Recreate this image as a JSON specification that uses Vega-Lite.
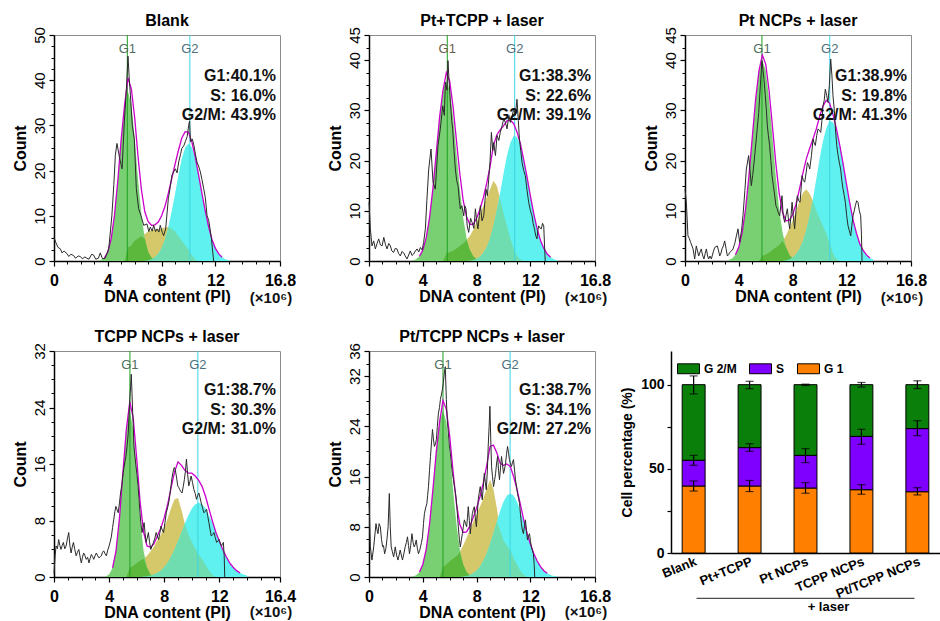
{
"$schema": "https://vega.github.io/schema/vega-lite/v6.json",
"padding": {"left": 11, "top": 12, "right": 0, "bottom": 0},
"background": "white",
"spacing": 21,
"resolve": {"scale": {"color": "independent"}, "legend": {"color": "independent"}},
"config": {
  "font": "Liberation Sans",
  "view": {"stroke": "#8c8c8c"},
  "title": {"font": "Liberation Sans", "fontSize": 16, "fontWeight": "bold", "color": "#000", "offset": -2, "anchor": "middle"},
  "axis": {"grid": false, "domainColor": "#000", "domainWidth": 1.5, "tickColor": "#000", "tickWidth": 1.2, "tickSize": 5, "labelColor": "#000", "titleColor": "#000", "labelFont": "Liberation Sans", "titleFont": "Liberation Sans", "titleFontWeight": "bold"},
  "axisX": {"labelFontSize": 16, "labelFontWeight": "bold", "titleFontSize": 16, "labelPadding": 6, "titlePadding": 0},
  "axisY": {"labelFontSize": 15, "labelAngle": -90, "titleFontSize": 16, "labelPadding": 2, "titlePadding": 4},
  "text": {"font": "Liberation Sans"}
},
"datasets": {
"f1": [
{"x":3.25,"g1":0.05,"s":0,"g2":0,"o1":0,"o2":0,"f":0.05},
{"x":3.5,"g1":0.21,"s":0,"g2":0,"o1":0,"o2":0,"f":0.21},
{"x":3.75,"g1":0.7,"s":0,"g2":0,"o1":0,"o2":0,"f":0.7},
{"x":4.0,"g1":2.0,"s":0,"g2":0,"o1":0,"o2":0,"f":2.0},
{"x":4.25,"g1":4.9,"s":0,"g2":0,"o1":0,"o2":0,"f":4.9},
{"x":4.5,"g1":10.2,"s":0,"g2":0,"o1":0,"o2":0,"f":10.2},
{"x":4.75,"g1":18.0,"s":0,"g2":0,"o1":0,"o2":0,"f":18.0},
{"x":5.0,"g1":27.1,"s":0,"g2":0,"o1":0,"o2":0,"f":27.1},
{"x":5.25,"g1":34.6,"s":0,"g2":0,"o1":0,"o2":0,"f":34.6},
{"x":5.5,"g1":37.5,"s":3.0,"g2":0,"o1":3.0,"o2":0,"f":40.5},
{"x":5.75,"g1":34.6,"s":3.5,"g2":0,"o1":3.5,"o2":0,"f":38.1},
{"x":6.0,"g1":27.1,"s":4.5,"g2":0,"o1":4.5,"o2":0,"f":31.6},
{"x":6.25,"g1":18.0,"s":5.0,"g2":0,"o1":5.0,"o2":0,"f":23.0},
{"x":6.5,"g1":10.2,"s":5.5,"g2":0,"o1":5.5,"o2":0,"f":15.7},
{"x":6.75,"g1":4.9,"s":6.0,"g2":0,"o1":4.9,"o2":0,"f":10.9},
{"x":7.0,"g1":2.0,"s":6.5,"g2":0.18,"o1":2.0,"o2":0.18,"f":8.7},
{"x":7.25,"g1":0.7,"s":6.8,"g2":0.4,"o1":0.7,"o2":0.4,"f":7.9},
{"x":7.5,"g1":0.21,"s":7.0,"g2":0.81,"o1":0.21,"o2":0.81,"f":8.0},
{"x":7.75,"g1":0.05,"s":7.0,"g2":1.57,"o1":0.05,"o2":1.57,"f":8.6},
{"x":8.0,"g1":0,"s":7.2,"g2":2.8,"o1":0,"o2":2.8,"f":10.0},
{"x":8.25,"g1":0,"s":7.4,"g2":4.7,"o1":0,"o2":4.7,"f":12.1},
{"x":8.5,"g1":0,"s":7.5,"g2":7.5,"o1":0,"o2":7.5,"f":15.0},
{"x":8.75,"g1":0,"s":7.2,"g2":11.0,"o1":0,"o2":7.2,"f":18.2},
{"x":9.0,"g1":0,"s":6.5,"g2":14.9,"o1":0,"o2":6.5,"f":21.4},
{"x":9.25,"g1":0,"s":5.5,"g2":19.0,"o1":0,"o2":5.5,"f":24.5},
{"x":9.5,"g1":0,"s":4.5,"g2":22.7,"o1":0,"o2":4.5,"f":27.2},
{"x":9.75,"g1":0,"s":3.5,"g2":25.1,"o1":0,"o2":3.5,"f":28.6},
{"x":10.0,"g1":0,"s":2.5,"g2":26.0,"o1":0,"o2":2.5,"f":28.5},
{"x":10.25,"g1":0,"s":1.2,"g2":25.1,"o1":0,"o2":1.2,"f":26.3},
{"x":10.5,"g1":0,"s":0.3,"g2":22.7,"o1":0,"o2":0.3,"f":23.0},
{"x":10.75,"g1":0,"s":0,"g2":19.0,"o1":0,"o2":0,"f":19.0},
{"x":11.0,"g1":0,"s":0,"g2":14.9,"o1":0,"o2":0,"f":14.9},
{"x":11.25,"g1":0,"s":0,"g2":11.0,"o1":0,"o2":0,"f":11.0},
{"x":11.5,"g1":0,"s":0,"g2":7.5,"o1":0,"o2":0,"f":7.5},
{"x":11.75,"g1":0,"s":0,"g2":4.7,"o1":0,"o2":0,"f":4.7},
{"x":12.0,"g1":0,"s":0,"g2":2.8,"o1":0,"o2":0,"f":2.8},
{"x":12.25,"g1":0,"s":0,"g2":1.57,"o1":0,"o2":0,"f":1.57},
{"x":12.5,"g1":0,"s":0,"g2":0.81,"o1":0,"o2":0,"f":0.81},
{"x":12.75,"g1":0,"s":0,"g2":0.4,"o1":0,"o2":0,"f":0.4},
{"x":13.0,"g1":0,"s":0,"g2":0.18,"o1":0,"o2":0,"f":0.18}
],
"r1": [
{"x":0,"y":5.2},{"x":0.15,"y":4},{"x":0.3,"y":3},{"x":0.47,"y":2.7},{"x":0.6,"y":1.8},{"x":0.75,"y":2.2},{"x":0.97,"y":1.6},{"x":1.1,"y":1.0},{"x":1.25,"y":1.5},{"x":1.46,"y":1.2},{"x":1.6,"y":0.6},{"x":1.8,"y":1.1},{"x":1.96,"y":1.0},{"x":2.1,"y":0.5},{"x":2.3,"y":0.9},{"x":2.45,"y":0.6},{"x":2.6,"y":0.4},{"x":2.8,"y":1.5},{"x":2.95,"y":1.3},{"x":3.1,"y":0.4},{"x":3.3,"y":0.6},{"x":3.44,"y":1.8},{"x":3.6,"y":0.5},{"x":3.8,"y":0.6},{"x":4.07,"y":2.7},{"x":4.3,"y":10},{"x":4.45,"y":17},{"x":4.56,"y":23.4},{"x":4.68,"y":26},{"x":4.88,"y":22.7},{"x":5.06,"y":20.4},{"x":5.23,"y":30.8},{"x":5.38,"y":38},{"x":5.5,"y":45.3},{"x":5.6,"y":40},{"x":5.68,"y":36.7},{"x":5.82,"y":30},{"x":5.97,"y":27},{"x":6.12,"y":16},{"x":6.29,"y":11.6},{"x":6.47,"y":10},{"x":6.67,"y":7.9},{"x":6.91,"y":8.2},{"x":7.05,"y":6.5},{"x":7.16,"y":7.5},{"x":7.3,"y":6.6},{"x":7.41,"y":7.9},{"x":7.55,"y":6.5},{"x":7.66,"y":7.1},{"x":7.8,"y":6.4},{"x":7.9,"y":7.9},{"x":8.05,"y":6.3},{"x":8.15,"y":5.6},{"x":8.3,"y":7.1},{"x":8.5,"y":13.8},{"x":8.65,"y":16.5},{"x":8.77,"y":19},{"x":9.02,"y":20.4},{"x":9.15,"y":19.5},{"x":9.27,"y":21.9},{"x":9.4,"y":23.5},{"x":9.5,"y":24.9},{"x":9.65,"y":25.5},{"x":9.76,"y":26.4},{"x":9.9,"y":27.5},{"x":10.01,"y":30},{"x":10.08,"y":31},{"x":10.14,"y":26.4},{"x":10.28,"y":27},{"x":10.4,"y":25.6},{"x":10.52,"y":23.5},{"x":10.63,"y":21.9},{"x":10.75,"y":21},{"x":10.88,"y":19.7},{"x":11.0,"y":18},{"x":11.13,"y":16},{"x":11.25,"y":14},{"x":11.38,"y":10},{"x":11.5,"y":9},{"x":11.6,"y":7.1},{"x":11.7,"y":5},{"x":11.8,"y":2},{"x":11.87,"y":0}
],
"f2": [
{"x":3.25,"g1":0.12,"s":0,"g2":0,"o1":0,"o2":0,"f":0.12},
{"x":3.5,"g1":0.35,"s":0,"g2":0,"o1":0,"o2":0,"f":0.35},
{"x":3.75,"g1":0.94,"s":0,"g2":0,"o1":0,"o2":0,"f":0.94},
{"x":4.0,"g1":2.2,"s":0,"g2":0,"o1":0,"o2":0,"f":2.2},
{"x":4.25,"g1":4.6,"s":0,"g2":0,"o1":0,"o2":0,"f":4.6},
{"x":4.5,"g1":8.6,"s":0,"g2":0,"o1":0,"o2":0,"f":8.6},
{"x":4.75,"g1":14.4,"s":0,"g2":0,"o1":0,"o2":0,"f":14.4},
{"x":5.0,"g1":21.5,"s":0,"g2":0,"o1":0,"o2":0,"f":21.5},
{"x":5.25,"g1":28.7,"s":0,"g2":0,"o1":0,"o2":0,"f":28.7},
{"x":5.5,"g1":34.0,"s":0,"g2":0,"o1":0,"o2":0,"f":34.0},
{"x":5.75,"g1":36.0,"s":1.5,"g2":0,"o1":1.5,"o2":0,"f":37.5},
{"x":6.0,"g1":34.0,"s":1.8,"g2":0,"o1":1.8,"o2":0,"f":35.8},
{"x":6.25,"g1":28.7,"s":2.0,"g2":0,"o1":2.0,"o2":0,"f":30.7},
{"x":6.5,"g1":21.5,"s":2.5,"g2":0,"o1":2.5,"o2":0,"f":24.0},
{"x":6.75,"g1":14.4,"s":3.0,"g2":0,"o1":3.0,"o2":0,"f":17.4},
{"x":7.0,"g1":8.6,"s":3.5,"g2":0,"o1":3.5,"o2":0,"f":12.1},
{"x":7.25,"g1":4.6,"s":4.2,"g2":0,"o1":4.2,"o2":0,"f":8.8},
{"x":7.5,"g1":2.2,"s":5.0,"g2":0.09,"o1":2.2,"o2":0.09,"f":7.3},
{"x":7.75,"g1":0.94,"s":6.2,"g2":0.2,"o1":0.94,"o2":0.2,"f":7.3},
{"x":8.0,"g1":0.35,"s":7.7,"g2":0.43,"o1":0.35,"o2":0.43,"f":8.5},
{"x":8.25,"g1":0.12,"s":9.3,"g2":0.85,"o1":0.12,"o2":0.85,"f":10.3},
{"x":8.5,"g1":0.04,"s":11.0,"g2":1.58,"o1":0.04,"o2":1.58,"f":12.6},
{"x":8.75,"g1":0,"s":12.7,"g2":2.75,"o1":0,"o2":2.75,"f":15.5},
{"x":9.0,"g1":0,"s":14.3,"g2":4.5,"o1":0,"o2":4.5,"f":18.8},
{"x":9.25,"g1":0,"s":16.0,"g2":6.95,"o1":0,"o2":6.95,"f":23.0},
{"x":9.5,"g1":0,"s":15.0,"g2":10.1,"o1":0,"o2":10.1,"f":25.1},
{"x":9.75,"g1":0,"s":12.5,"g2":13.6,"o1":0,"o2":12.5,"f":26.1},
{"x":10.0,"g1":0,"s":9.5,"g2":17.4,"o1":0,"o2":9.5,"f":26.9},
{"x":10.25,"g1":0,"s":7.0,"g2":20.9,"o1":0,"o2":7.0,"f":27.9},
{"x":10.5,"g1":0,"s":4.5,"g2":23.5,"o1":0,"o2":4.5,"f":28.0},
{"x":10.75,"g1":0,"s":2.5,"g2":24.9,"o1":0,"o2":2.5,"f":27.4},
{"x":11.0,"g1":0,"s":1.0,"g2":24.7,"o1":0,"o2":1.0,"f":25.7},
{"x":11.25,"g1":0,"s":0.3,"g2":23.1,"o1":0,"o2":0.3,"f":23.4},
{"x":11.5,"g1":0,"s":0,"g2":20.2,"o1":0,"o2":0,"f":20.2},
{"x":11.75,"g1":0,"s":0,"g2":16.7,"o1":0,"o2":0,"f":16.7},
{"x":12.0,"g1":0,"s":0,"g2":12.9,"o1":0,"o2":0,"f":12.9},
{"x":12.25,"g1":0,"s":0,"g2":9.4,"o1":0,"o2":0,"f":9.4},
{"x":12.5,"g1":0,"s":0,"g2":6.4,"o1":0,"o2":0,"f":6.4},
{"x":12.75,"g1":0,"s":0,"g2":4.1,"o1":0,"o2":0,"f":4.1},
{"x":13.0,"g1":0,"s":0,"g2":2.5,"o1":0,"o2":0,"f":2.5},
{"x":13.25,"g1":0,"s":0,"g2":1.4,"o1":0,"o2":0,"f":1.4},
{"x":13.5,"g1":0,"s":0,"g2":0.75,"o1":0,"o2":0,"f":0.75},
{"x":13.75,"g1":0,"s":0,"g2":0.37,"o1":0,"o2":0,"f":0.37},
{"x":14.0,"g1":0,"s":0,"g2":0.17,"o1":0,"o2":0,"f":0.17}
],
"r2": [
{"x":0,"y":11.7},{"x":0.1,"y":6.4},{"x":0.22,"y":3},{"x":0.35,"y":4},{"x":0.47,"y":2.4},{"x":0.6,"y":3.5},{"x":0.72,"y":4.4},{"x":0.85,"y":3.2},{"x":0.97,"y":3},{"x":1.1,"y":4.7},{"x":1.22,"y":3.3},{"x":1.34,"y":2.4},{"x":1.47,"y":3.5},{"x":1.59,"y":3},{"x":1.7,"y":2},{"x":1.83,"y":1.7},{"x":1.95,"y":2.5},{"x":2.08,"y":2.4},{"x":2.2,"y":1.5},{"x":2.33,"y":1},{"x":2.45,"y":1.9},{"x":2.58,"y":1.6},{"x":2.7,"y":1},{"x":2.83,"y":0.4},{"x":2.95,"y":1.2},{"x":3.07,"y":2},{"x":3.2,"y":1.1},{"x":3.32,"y":1.4},{"x":3.45,"y":2},{"x":3.57,"y":2.4},{"x":3.7,"y":1.8},{"x":3.82,"y":2.7},{"x":3.95,"y":2.2},{"x":4.06,"y":3.7},{"x":4.19,"y":6.4},{"x":4.3,"y":12},{"x":4.44,"y":18.3},{"x":4.61,"y":22.3},{"x":4.76,"y":15.7},{"x":4.93,"y":14.3},{"x":5.13,"y":23},{"x":5.3,"y":26.3},{"x":5.48,"y":30.9},{"x":5.6,"y":29},{"x":5.68,"y":35.6},{"x":5.8,"y":34},{"x":5.87,"y":39.9},{"x":5.95,"y":36},{"x":6.05,"y":31.6},{"x":6.15,"y":28},{"x":6.22,"y":26.3},{"x":6.32,"y":22},{"x":6.42,"y":18.3},{"x":6.52,"y":16},{"x":6.62,"y":15},{"x":6.72,"y":12},{"x":6.79,"y":10.4},{"x":6.9,"y":11},{"x":7.04,"y":9},{"x":7.12,"y":11},{"x":7.21,"y":10.4},{"x":7.3,"y":7},{"x":7.41,"y":5.7},{"x":7.55,"y":8.5},{"x":7.66,"y":7.7},{"x":7.8,"y":6.5},{"x":7.91,"y":10.4},{"x":8.0,"y":8},{"x":8.1,"y":6.4},{"x":8.2,"y":9},{"x":8.28,"y":11},{"x":8.4,"y":8},{"x":8.53,"y":9},{"x":8.62,"y":12},{"x":8.7,"y":14.3},{"x":8.8,"y":13},{"x":8.9,"y":16.3},{"x":9.0,"y":20},{"x":9.1,"y":25.6},{"x":9.2,"y":22},{"x":9.27,"y":23.6},{"x":9.4,"y":21},{"x":9.52,"y":25},{"x":9.65,"y":24},{"x":9.76,"y":25.6},{"x":9.9,"y":27},{"x":10.01,"y":28.3},{"x":10.15,"y":27.5},{"x":10.26,"y":26.3},{"x":10.4,"y":29},{"x":10.51,"y":27.6},{"x":10.65,"y":29},{"x":10.76,"y":30.3},{"x":10.88,"y":29},{"x":11.0,"y":32.2},{"x":11.1,"y":28},{"x":11.18,"y":24.3},{"x":11.28,"y":22},{"x":11.38,"y":19.6},{"x":11.5,"y":18},{"x":11.62,"y":17},{"x":11.75,"y":14},{"x":11.87,"y":11.7},{"x":12.0,"y":10},{"x":12.12,"y":9},{"x":12.2,"y":7.5},{"x":12.3,"y":6.4},{"x":12.4,"y":5},{"x":12.49,"y":4.4},{"x":12.55,"y":6},{"x":12.61,"y":7},{"x":12.7,"y":6.6},{"x":12.81,"y":6.4},{"x":12.9,"y":7.5},{"x":12.99,"y":7},{"x":13.05,"y":3},{"x":13.1,"y":0}
],
"f3": [
{"x":3.25,"g1":0.18,"s":0,"g2":0,"o1":0,"o2":0,"f":0.18},
{"x":3.5,"g1":0.5,"s":0,"g2":0,"o1":0,"o2":0,"f":0.5},
{"x":3.75,"g1":1.25,"s":0,"g2":0,"o1":0,"o2":0,"f":1.25},
{"x":4.0,"g1":2.8,"s":0,"g2":0,"o1":0,"o2":0,"f":2.8},
{"x":4.25,"g1":5.7,"s":0,"g2":0,"o1":0,"o2":0,"f":5.7},
{"x":4.5,"g1":10.3,"s":0,"g2":0,"o1":0,"o2":0,"f":10.3},
{"x":4.75,"g1":16.8,"s":0,"g2":0,"o1":0,"o2":0,"f":16.8},
{"x":5.0,"g1":24.6,"s":0,"g2":0,"o1":0,"o2":0,"f":24.6},
{"x":5.25,"g1":32.2,"s":0,"g2":0,"o1":0,"o2":0,"f":32.2},
{"x":5.5,"g1":37.9,"s":0,"g2":0,"o1":0,"o2":0,"f":37.9},
{"x":5.75,"g1":40.0,"s":1.0,"g2":0,"o1":1.0,"o2":0,"f":41.0},
{"x":6.0,"g1":37.9,"s":1.3,"g2":0,"o1":1.3,"o2":0,"f":39.2},
{"x":6.25,"g1":32.2,"s":1.7,"g2":0,"o1":1.7,"o2":0,"f":33.9},
{"x":6.5,"g1":24.6,"s":2.2,"g2":0,"o1":2.2,"o2":0,"f":26.8},
{"x":6.75,"g1":16.8,"s":2.7,"g2":0,"o1":2.7,"o2":0,"f":19.5},
{"x":7.0,"g1":10.3,"s":3.2,"g2":0,"o1":3.2,"o2":0,"f":13.5},
{"x":7.25,"g1":5.7,"s":4.0,"g2":0,"o1":4.0,"o2":0,"f":9.7},
{"x":7.5,"g1":2.8,"s":5.0,"g2":0.17,"o1":2.8,"o2":0.17,"f":8.0},
{"x":7.75,"g1":1.25,"s":6.5,"g2":0.36,"o1":1.25,"o2":0.36,"f":8.1},
{"x":8.0,"g1":0.5,"s":8.0,"g2":0.7,"o1":0.5,"o2":0.7,"f":9.2},
{"x":8.25,"g1":0.18,"s":9.8,"g2":1.3,"o1":0.18,"o2":1.3,"f":11.3},
{"x":8.5,"g1":0.06,"s":11.8,"g2":2.3,"o1":0.06,"o2":2.3,"f":14.2},
{"x":8.75,"g1":0,"s":13.5,"g2":3.8,"o1":0,"o2":3.8,"f":17.3},
{"x":9.0,"g1":0,"s":14.3,"g2":5.9,"o1":0,"o2":5.9,"f":20.2},
{"x":9.25,"g1":0,"s":13.5,"g2":8.8,"o1":0,"o2":8.8,"f":22.3},
{"x":9.5,"g1":0,"s":12.0,"g2":12.2,"o1":0,"o2":12.0,"f":24.2},
{"x":9.75,"g1":0,"s":10.0,"g2":16.2,"o1":0,"o2":10.0,"f":26.2},
{"x":10.0,"g1":0,"s":8.5,"g2":20.2,"o1":0,"o2":8.5,"f":28.7},
{"x":10.25,"g1":0,"s":7.0,"g2":23.8,"o1":0,"o2":7.0,"f":30.8},
{"x":10.5,"g1":0,"s":5.5,"g2":26.5,"o1":0,"o2":5.5,"f":32.0},
{"x":10.75,"g1":0,"s":3.5,"g2":27.9,"o1":0,"o2":3.5,"f":31.4},
{"x":11.0,"g1":0,"s":1.5,"g2":27.7,"o1":0,"o2":1.5,"f":29.2},
{"x":11.25,"g1":0,"s":0.4,"g2":26.0,"o1":0,"o2":0.4,"f":26.4},
{"x":11.5,"g1":0,"s":0,"g2":23.1,"o1":0,"o2":0,"f":23.1},
{"x":11.75,"g1":0,"s":0,"g2":19.4,"o1":0,"o2":0,"f":19.4},
{"x":12.0,"g1":0,"s":0,"g2":15.4,"o1":0,"o2":0,"f":15.4},
{"x":12.25,"g1":0,"s":0,"g2":11.5,"o1":0,"o2":0,"f":11.5},
{"x":12.5,"g1":0,"s":0,"g2":8.1,"o1":0,"o2":0,"f":8.1},
{"x":12.75,"g1":0,"s":0,"g2":5.5,"o1":0,"o2":0,"f":5.5},
{"x":13.0,"g1":0,"s":0,"g2":3.4,"o1":0,"o2":0,"f":3.4},
{"x":13.25,"g1":0,"s":0,"g2":2.1,"o1":0,"o2":0,"f":2.1},
{"x":13.5,"g1":0,"s":0,"g2":1.16,"o1":0,"o2":0,"f":1.16},
{"x":13.75,"g1":0,"s":0,"g2":0.62,"o1":0,"o2":0,"f":0.62},
{"x":14.0,"g1":0,"s":0,"g2":0.31,"o1":0,"o2":0,"f":0.31}
],
"r3": [
{"x":0,"y":14.3},{"x":0.1,"y":11.7},{"x":0.22,"y":5},{"x":0.32,"y":4.5},{"x":0.42,"y":3.7},{"x":0.6,"y":2.4},{"x":0.72,"y":0.4},{"x":0.84,"y":3},{"x":0.93,"y":2},{"x":1.02,"y":1},{"x":1.12,"y":1.8},{"x":1.21,"y":2.4},{"x":1.3,"y":1.2},{"x":1.41,"y":0.4},{"x":1.5,"y":1.5},{"x":1.59,"y":2.4},{"x":1.68,"y":1},{"x":1.76,"y":0.4},{"x":1.86,"y":1},{"x":1.96,"y":0.4},{"x":2.1,"y":1.8},{"x":2.21,"y":2.7},{"x":2.4,"y":3},{"x":2.5,"y":2},{"x":2.58,"y":1},{"x":2.68,"y":1.6},{"x":2.75,"y":2.4},{"x":2.85,"y":3},{"x":2.95,"y":4},{"x":3.05,"y":2.5},{"x":3.15,"y":1},{"x":3.25,"y":1.3},{"x":3.32,"y":1.7},{"x":3.45,"y":2},{"x":3.57,"y":2.4},{"x":3.7,"y":3.5},{"x":3.82,"y":5},{"x":3.94,"y":6.4},{"x":4.06,"y":3.7},{"x":4.2,"y":6},{"x":4.31,"y":9},{"x":4.45,"y":14},{"x":4.56,"y":18.3},{"x":4.73,"y":21},{"x":4.83,"y":18},{"x":4.93,"y":15},{"x":5.03,"y":17},{"x":5.13,"y":19.6},{"x":5.3,"y":24.3},{"x":5.48,"y":29.6},{"x":5.63,"y":36.2},{"x":5.72,"y":39.9},{"x":5.8,"y":38},{"x":5.87,"y":36.2},{"x":5.97,"y":32.9},{"x":6.05,"y":30},{"x":6.12,"y":26.9},{"x":6.2,"y":25},{"x":6.29,"y":23},{"x":6.38,"y":20},{"x":6.47,"y":17},{"x":6.57,"y":15},{"x":6.67,"y":13},{"x":6.76,"y":11},{"x":6.86,"y":10.4},{"x":6.95,"y":9.5},{"x":7.04,"y":9},{"x":7.12,"y":11},{"x":7.21,"y":13},{"x":7.3,"y":9},{"x":7.41,"y":7.7},{"x":7.5,"y":9},{"x":7.61,"y":10.4},{"x":7.7,"y":8},{"x":7.78,"y":6.4},{"x":7.88,"y":9},{"x":7.96,"y":11.7},{"x":8.05,"y":9},{"x":8.15,"y":6.4},{"x":8.25,"y":10},{"x":8.35,"y":13},{"x":8.45,"y":12},{"x":8.55,"y":11.7},{"x":8.62,"y":14},{"x":8.7,"y":17},{"x":8.8,"y":16},{"x":8.9,"y":15.7},{"x":9.0,"y":17.5},{"x":9.1,"y":19.6},{"x":9.2,"y":19},{"x":9.27,"y":18.3},{"x":9.4,"y":21},{"x":9.52,"y":24.3},{"x":9.6,"y":23.5},{"x":9.69,"y":23},{"x":9.79,"y":25},{"x":9.89,"y":26.3},{"x":10.0,"y":26},{"x":10.09,"y":25.6},{"x":10.18,"y":28},{"x":10.26,"y":30.9},{"x":10.35,"y":32},{"x":10.43,"y":34.2},{"x":10.53,"y":33},{"x":10.63,"y":31.6},{"x":10.73,"y":35},{"x":10.83,"y":40.2},{"x":10.92,"y":37},{"x":11.0,"y":32.9},{"x":11.1,"y":30},{"x":11.18,"y":26.3},{"x":11.28,"y":23},{"x":11.38,"y":21},{"x":11.48,"y":19.5},{"x":11.57,"y":18.3},{"x":11.66,"y":16},{"x":11.75,"y":14.3},{"x":11.84,"y":13},{"x":11.92,"y":11.7},{"x":12.02,"y":9},{"x":12.12,"y":7},{"x":12.22,"y":6},{"x":12.32,"y":5},{"x":12.4,"y":7},{"x":12.49,"y":9},{"x":12.58,"y":10},{"x":12.66,"y":11},{"x":12.76,"y":12},{"x":12.86,"y":11.7},{"x":12.96,"y":10},{"x":13.06,"y":9},{"x":13.12,"y":5},{"x":13.16,"y":0}
],
"f4": [
{"x":3.75,"g1":0.08,"s":0,"g2":0,"o1":0,"o2":0,"f":0.08},
{"x":4.0,"g1":0.37,"s":0,"g2":0,"o1":0,"o2":0,"f":0.37},
{"x":4.25,"g1":1.3,"s":0,"g2":0,"o1":0,"o2":0,"f":1.3},
{"x":4.5,"g1":3.7,"s":0,"g2":0,"o1":0,"o2":0,"f":3.7},
{"x":4.75,"g1":8.3,"s":0,"g2":0,"o1":0,"o2":0,"f":8.3},
{"x":5.0,"g1":14.8,"s":0,"g2":0,"o1":0,"o2":0,"f":14.8},
{"x":5.25,"g1":20.9,"s":0,"g2":0,"o1":0,"o2":0,"f":20.9},
{"x":5.5,"g1":23.5,"s":1.3,"g2":0,"o1":1.3,"o2":0,"f":24.8},
{"x":5.75,"g1":20.9,"s":1.6,"g2":0,"o1":1.6,"o2":0,"f":22.5},
{"x":6.0,"g1":14.8,"s":2.0,"g2":0,"o1":2.0,"o2":0,"f":16.8},
{"x":6.25,"g1":8.3,"s":2.3,"g2":0,"o1":2.3,"o2":0,"f":10.6},
{"x":6.5,"g1":3.7,"s":2.6,"g2":0.06,"o1":2.6,"o2":0.06,"f":6.4},
{"x":6.75,"g1":1.3,"s":3.0,"g2":0.11,"o1":1.3,"o2":0.11,"f":4.4},
{"x":7.0,"g1":0.37,"s":3.6,"g2":0.2,"o1":0.37,"o2":0.2,"f":4.2},
{"x":7.25,"g1":0.08,"s":4.3,"g2":0.34,"o1":0.08,"o2":0.34,"f":4.7},
{"x":7.5,"g1":0,"s":5.2,"g2":0.56,"o1":0,"o2":0.56,"f":5.8},
{"x":7.75,"g1":0,"s":6.0,"g2":0.9,"o1":0,"o2":0.9,"f":6.9},
{"x":8.0,"g1":0,"s":7.0,"g2":1.38,"o1":0,"o2":1.38,"f":8.4},
{"x":8.25,"g1":0,"s":8.3,"g2":2.0,"o1":0,"o2":2.0,"f":10.3},
{"x":8.5,"g1":0,"s":9.8,"g2":2.86,"o1":0,"o2":2.86,"f":12.7},
{"x":8.75,"g1":0,"s":11.0,"g2":3.9,"o1":0,"o2":3.9,"f":14.9},
{"x":9.0,"g1":0,"s":11.2,"g2":5.05,"o1":0,"o2":5.05,"f":16.3},
{"x":9.25,"g1":0,"s":9.5,"g2":6.3,"o1":0,"o2":6.3,"f":15.8},
{"x":9.5,"g1":0,"s":7.5,"g2":7.6,"o1":0,"o2":7.5,"f":15.1},
{"x":9.75,"g1":0,"s":6.0,"g2":8.7,"o1":0,"o2":6.0,"f":14.7},
{"x":10.0,"g1":0,"s":5.0,"g2":9.7,"o1":0,"o2":5.0,"f":14.7},
{"x":10.25,"g1":0,"s":4.0,"g2":10.3,"o1":0,"o2":4.0,"f":14.3},
{"x":10.5,"g1":0,"s":3.2,"g2":10.5,"o1":0,"o2":3.2,"f":13.7},
{"x":10.75,"g1":0,"s":2.5,"g2":10.3,"o1":0,"o2":2.5,"f":12.8},
{"x":11.0,"g1":0,"s":1.7,"g2":9.7,"o1":0,"o2":1.7,"f":11.4},
{"x":11.25,"g1":0,"s":0.9,"g2":8.7,"o1":0,"o2":0.9,"f":9.6},
{"x":11.5,"g1":0,"s":0.3,"g2":7.6,"o1":0,"o2":0.3,"f":7.9},
{"x":11.75,"g1":0,"s":0,"g2":6.3,"o1":0,"o2":0,"f":6.3},
{"x":12.0,"g1":0,"s":0,"g2":5.05,"o1":0,"o2":0,"f":5.05},
{"x":12.25,"g1":0,"s":0,"g2":3.9,"o1":0,"o2":0,"f":3.9},
{"x":12.5,"g1":0,"s":0,"g2":2.86,"o1":0,"o2":0,"f":2.86},
{"x":12.75,"g1":0,"s":0,"g2":2.0,"o1":0,"o2":0,"f":2.0},
{"x":13.0,"g1":0,"s":0,"g2":1.38,"o1":0,"o2":0,"f":1.38},
{"x":13.25,"g1":0,"s":0,"g2":0.9,"o1":0,"o2":0,"f":0.9},
{"x":13.5,"g1":0,"s":0,"g2":0.56,"o1":0,"o2":0,"f":0.56},
{"x":13.75,"g1":0,"s":0,"g2":0.34,"o1":0,"o2":0,"f":0.34},
{"x":14.0,"g1":0,"s":0,"g2":0.2,"o1":0,"o2":0,"f":0.2}
],
"r4": [
{"x":0,"y":0.5},{"x":0.08,"y":3},{"x":0.15,"y":4.4},{"x":0.25,"y":4},{"x":0.34,"y":5.3},{"x":0.42,"y":4.5},{"x":0.51,"y":3.9},{"x":0.6,"y":4.5},{"x":0.68,"y":4.9},{"x":0.78,"y":4},{"x":0.88,"y":4.4},{"x":0.98,"y":5.5},{"x":1.07,"y":6.3},{"x":1.15,"y":4.5},{"x":1.24,"y":3.4},{"x":1.32,"y":4.2},{"x":1.41,"y":4.9},{"x":1.5,"y":4},{"x":1.61,"y":3},{"x":1.7,"y":3.5},{"x":1.8,"y":3.9},{"x":1.9,"y":2.8},{"x":1.98,"y":2},{"x":2.07,"y":2.8},{"x":2.15,"y":3.4},{"x":2.25,"y":3},{"x":2.34,"y":2.5},{"x":2.44,"y":2.8},{"x":2.54,"y":2},{"x":2.62,"y":2.6},{"x":2.71,"y":3.2},{"x":2.8,"y":2.9},{"x":2.88,"y":2.5},{"x":2.98,"y":3},{"x":3.07,"y":3.4},{"x":3.17,"y":3},{"x":3.27,"y":2.7},{"x":3.36,"y":2.9},{"x":3.44,"y":3},{"x":3.52,"y":3.5},{"x":3.61,"y":3.7},{"x":3.7,"y":3.3},{"x":3.8,"y":3},{"x":3.9,"y":3.8},{"x":4.0,"y":4.4},{"x":4.08,"y":5},{"x":4.17,"y":5.8},{"x":4.25,"y":7},{"x":4.34,"y":8.2},{"x":4.42,"y":9.3},{"x":4.49,"y":10},{"x":4.58,"y":9.5},{"x":4.66,"y":9.1},{"x":4.75,"y":10.5},{"x":4.83,"y":11.9},{"x":4.92,"y":13},{"x":5.02,"y":14.8},{"x":5.12,"y":16},{"x":5.22,"y":17.1},{"x":5.3,"y":18.5},{"x":5.39,"y":20.4},{"x":5.45,"y":23},{"x":5.51,"y":25.6},{"x":5.56,"y":27},{"x":5.61,"y":28.7},{"x":5.66,"y":26},{"x":5.71,"y":23.3},{"x":5.76,"y":21},{"x":5.8,"y":18.5},{"x":5.88,"y":17},{"x":5.95,"y":15.7},{"x":6.02,"y":14.5},{"x":6.1,"y":12.9},{"x":6.17,"y":11},{"x":6.24,"y":9.1},{"x":6.31,"y":7.5},{"x":6.39,"y":6.3},{"x":6.46,"y":7},{"x":6.54,"y":7.7},{"x":6.61,"y":6.2},{"x":6.68,"y":4.9},{"x":6.76,"y":5.5},{"x":6.85,"y":6.3},{"x":6.93,"y":5},{"x":7.02,"y":3.9},{"x":7.12,"y":4.4},{"x":7.22,"y":4.9},{"x":7.32,"y":5.5},{"x":7.41,"y":6.3},{"x":7.5,"y":5.8},{"x":7.59,"y":5.3},{"x":7.68,"y":6.2},{"x":7.76,"y":7.2},{"x":7.85,"y":6.7},{"x":7.95,"y":6.3},{"x":8.05,"y":7.7},{"x":8.15,"y":9.1},{"x":8.24,"y":9.8},{"x":8.32,"y":10.5},{"x":8.4,"y":11.5},{"x":8.49,"y":12.9},{"x":8.56,"y":14},{"x":8.63,"y":14.8},{"x":8.72,"y":15.5},{"x":8.8,"y":15.2},{"x":8.9,"y":14},{"x":8.98,"y":12.9},{"x":9.05,"y":12.7},{"x":9.12,"y":12.4},{"x":9.2,"y":12.1},{"x":9.29,"y":11.9},{"x":9.38,"y":12.8},{"x":9.46,"y":13.8},{"x":9.54,"y":15},{"x":9.61,"y":16.7},{"x":9.7,"y":14.5},{"x":9.78,"y":12.9},{"x":9.86,"y":13.5},{"x":9.95,"y":14.3},{"x":10.05,"y":13.4},{"x":10.15,"y":12.4},{"x":10.25,"y":11.8},{"x":10.34,"y":11},{"x":10.42,"y":11.5},{"x":10.51,"y":11.9},{"x":10.6,"y":11.2},{"x":10.68,"y":10.5},{"x":10.78,"y":9.8},{"x":10.88,"y":9.1},{"x":10.98,"y":9.3},{"x":11.07,"y":9.6},{"x":11.15,"y":8.7},{"x":11.24,"y":7.7},{"x":11.32,"y":6.8},{"x":11.41,"y":5.8},{"x":11.51,"y":6},{"x":11.61,"y":6.3},{"x":11.7,"y":5.6},{"x":11.8,"y":4.9},{"x":11.9,"y":5.1},{"x":11.98,"y":5.3},{"x":12.06,"y":4.8},{"x":12.15,"y":4.4},{"x":12.22,"y":4.6},{"x":12.29,"y":4.9},{"x":12.35,"y":3},{"x":12.39,"y":0}
],
"f5": [
{"x":3.25,"g1":0.08,"s":0,"g2":0,"o1":0,"o2":0,"f":0.08},
{"x":3.5,"g1":0.27,"s":0,"g2":0,"o1":0,"o2":0,"f":0.27},
{"x":3.75,"g1":0.79,"s":0,"g2":0,"o1":0,"o2":0,"f":0.79},
{"x":4.0,"g1":2.0,"s":0,"g2":0,"o1":0,"o2":0,"f":2.0},
{"x":4.25,"g1":4.4,"s":0,"g2":0,"o1":0,"o2":0,"f":4.4},
{"x":4.5,"g1":8.4,"s":0,"g2":0,"o1":0,"o2":0,"f":8.4},
{"x":4.75,"g1":13.9,"s":0,"g2":0,"o1":0,"o2":0,"f":13.9},
{"x":5.0,"g1":19.9,"s":0,"g2":0,"o1":0,"o2":0,"f":19.9},
{"x":5.25,"g1":24.7,"s":0,"g2":0,"o1":0,"o2":0,"f":24.7},
{"x":5.5,"g1":26.5,"s":1.6,"g2":0,"o1":1.6,"o2":0,"f":28.1},
{"x":5.75,"g1":24.7,"s":2.0,"g2":0,"o1":2.0,"o2":0,"f":26.7},
{"x":6.0,"g1":19.9,"s":2.5,"g2":0,"o1":2.5,"o2":0,"f":22.4},
{"x":6.25,"g1":13.9,"s":2.9,"g2":0,"o1":2.9,"o2":0,"f":16.8},
{"x":6.5,"g1":8.4,"s":3.3,"g2":0,"o1":3.3,"o2":0,"f":11.7},
{"x":6.75,"g1":4.4,"s":4.0,"g2":0,"o1":4.0,"o2":0,"f":8.4},
{"x":7.0,"g1":2.0,"s":5.0,"g2":0.08,"o1":2.0,"o2":0.08,"f":7.1},
{"x":7.25,"g1":0.79,"s":6.2,"g2":0.17,"o1":0.79,"o2":0.17,"f":7.2},
{"x":7.5,"g1":0.27,"s":7.5,"g2":0.32,"o1":0.27,"o2":0.32,"f":8.1},
{"x":7.75,"g1":0.08,"s":8.8,"g2":0.58,"o1":0.08,"o2":0.58,"f":9.5},
{"x":8.0,"g1":0,"s":10.0,"g2":1.0,"o1":0,"o2":1.0,"f":11.0},
{"x":8.25,"g1":0,"s":11.2,"g2":1.64,"o1":0,"o2":1.64,"f":12.8},
{"x":8.5,"g1":0,"s":12.5,"g2":2.54,"o1":0,"o2":2.54,"f":15.0},
{"x":8.75,"g1":0,"s":14.0,"g2":3.75,"o1":0,"o2":3.75,"f":17.8},
{"x":9.0,"g1":0,"s":15.5,"g2":5.25,"o1":0,"o2":5.25,"f":20.8},
{"x":9.25,"g1":0,"s":14.0,"g2":6.97,"o1":0,"o2":6.97,"f":21.0},
{"x":9.5,"g1":0,"s":11.0,"g2":8.8,"o1":0,"o2":8.8,"f":19.8},
{"x":9.75,"g1":0,"s":7.5,"g2":10.55,"o1":0,"o2":7.5,"f":18.1},
{"x":10.0,"g1":0,"s":5.8,"g2":12.0,"o1":0,"o2":5.8,"f":17.8},
{"x":10.25,"g1":0,"s":5.0,"g2":12.97,"o1":0,"o2":5.0,"f":18.0},
{"x":10.5,"g1":0,"s":4.3,"g2":13.3,"o1":0,"o2":4.3,"f":17.6},
{"x":10.75,"g1":0,"s":3.0,"g2":12.97,"o1":0,"o2":3.0,"f":16.0},
{"x":11.0,"g1":0,"s":2.0,"g2":12.0,"o1":0,"o2":2.0,"f":14.0},
{"x":11.25,"g1":0,"s":1.0,"g2":10.55,"o1":0,"o2":1.0,"f":11.6},
{"x":11.5,"g1":0,"s":0.3,"g2":8.8,"o1":0,"o2":0.3,"f":9.1},
{"x":11.75,"g1":0,"s":0,"g2":6.97,"o1":0,"o2":0,"f":6.97},
{"x":12.0,"g1":0,"s":0,"g2":5.25,"o1":0,"o2":0,"f":5.25},
{"x":12.25,"g1":0,"s":0,"g2":3.75,"o1":0,"o2":0,"f":3.75},
{"x":12.5,"g1":0,"s":0,"g2":2.54,"o1":0,"o2":0,"f":2.54},
{"x":12.75,"g1":0,"s":0,"g2":1.64,"o1":0,"o2":0,"f":1.64},
{"x":13.0,"g1":0,"s":0,"g2":1.0,"o1":0,"o2":0,"f":1.0},
{"x":13.25,"g1":0,"s":0,"g2":0.58,"o1":0,"o2":0,"f":0.58},
{"x":13.5,"g1":0,"s":0,"g2":0.32,"o1":0,"o2":0,"f":0.32},
{"x":13.75,"g1":0,"s":0,"g2":0.17,"o1":0,"o2":0,"f":0.17},
{"x":14.0,"g1":0,"s":0,"g2":0.08,"o1":0,"o2":0,"f":0.08}
],
"r5": [
{"x":0,"y":12.8},{"x":0.1,"y":4.8},{"x":0.22,"y":2.7},{"x":0.35,"y":4.8},{"x":0.45,"y":7},{"x":0.52,"y":8.5},{"x":0.6,"y":7.5},{"x":0.67,"y":6.9},{"x":0.75,"y":8.5},{"x":0.84,"y":8},{"x":0.93,"y":6},{"x":1.01,"y":4.8},{"x":1.08,"y":5},{"x":1.16,"y":3.7},{"x":1.25,"y":4.5},{"x":1.33,"y":5.9},{"x":1.42,"y":8},{"x":1.51,"y":13.3},{"x":1.58,"y":8},{"x":1.65,"y":4.8},{"x":1.74,"y":4},{"x":1.83,"y":3.2},{"x":1.9,"y":4},{"x":1.95,"y":4.8},{"x":2.05,"y":3.5},{"x":2.15,"y":2.7},{"x":2.24,"y":3.5},{"x":2.32,"y":4.3},{"x":2.4,"y":3.5},{"x":2.49,"y":2.7},{"x":2.6,"y":3.8},{"x":2.69,"y":4.8},{"x":2.78,"y":5.5},{"x":2.86,"y":6.4},{"x":2.94,"y":5},{"x":3.01,"y":3.7},{"x":3.1,"y":5},{"x":3.19,"y":6.9},{"x":3.28,"y":5.5},{"x":3.36,"y":4.8},{"x":3.44,"y":5.2},{"x":3.51,"y":5.9},{"x":3.6,"y":4.5},{"x":3.68,"y":3.7},{"x":3.76,"y":4.2},{"x":3.83,"y":4.8},{"x":3.9,"y":5.5},{"x":3.98,"y":6.4},{"x":4.05,"y":8.5},{"x":4.12,"y":10.1},{"x":4.21,"y":11},{"x":4.3,"y":11.7},{"x":4.36,"y":13},{"x":4.42,"y":14.4},{"x":4.5,"y":17},{"x":4.57,"y":19.2},{"x":4.65,"y":21.5},{"x":4.72,"y":23.5},{"x":4.79,"y":22},{"x":4.86,"y":20.8},{"x":4.94,"y":21.2},{"x":5.01,"y":21.9},{"x":5.08,"y":24},{"x":5.16,"y":26.1},{"x":5.24,"y":27},{"x":5.31,"y":28.3},{"x":5.38,"y":29},{"x":5.46,"y":29.9},{"x":5.53,"y":31},{"x":5.6,"y":32.5},{"x":5.67,"y":33.5},{"x":5.75,"y":28.3},{"x":5.82,"y":25},{"x":5.9,"y":22.9},{"x":5.97,"y":21},{"x":6.05,"y":19.7},{"x":6.12,"y":18},{"x":6.2,"y":16.5},{"x":6.28,"y":15.5},{"x":6.35,"y":14.4},{"x":6.42,"y":13.5},{"x":6.49,"y":12.3},{"x":6.57,"y":10},{"x":6.64,"y":8},{"x":6.72,"y":6},{"x":6.79,"y":4.8},{"x":6.86,"y":5.8},{"x":6.94,"y":6.9},{"x":7.01,"y":8},{"x":7.09,"y":9.1},{"x":7.18,"y":8.5},{"x":7.26,"y":8},{"x":7.32,"y":9.5},{"x":7.38,"y":11.2},{"x":7.46,"y":9},{"x":7.53,"y":6.9},{"x":7.6,"y":8.5},{"x":7.68,"y":10.1},{"x":7.76,"y":10.8},{"x":7.83,"y":11.2},{"x":7.9,"y":9.5},{"x":7.98,"y":8},{"x":8.05,"y":10},{"x":8.12,"y":12.3},{"x":8.2,"y":13.5},{"x":8.27,"y":14.4},{"x":8.35,"y":13.2},{"x":8.42,"y":12.3},{"x":8.5,"y":14.5},{"x":8.57,"y":16.5},{"x":8.65,"y":15},{"x":8.72,"y":13.9},{"x":8.8,"y":17},{"x":8.86,"y":20.8},{"x":8.93,"y":24},{"x":8.99,"y":27.2},{"x":9.05,"y":22},{"x":9.11,"y":17.6},{"x":9.18,"y":16},{"x":9.26,"y":14.4},{"x":9.34,"y":15.5},{"x":9.41,"y":16.5},{"x":9.48,"y":18},{"x":9.56,"y":19.2},{"x":9.63,"y":17},{"x":9.7,"y":15.5},{"x":9.78,"y":17.5},{"x":9.85,"y":19.2},{"x":9.92,"y":18},{"x":10.0,"y":16.5},{"x":10.08,"y":17.2},{"x":10.15,"y":18.1},{"x":10.22,"y":19.5},{"x":10.3,"y":20.8},{"x":10.37,"y":19.8},{"x":10.44,"y":18.7},{"x":10.52,"y":18},{"x":10.59,"y":17.6},{"x":10.66,"y":18.2},{"x":10.74,"y":18.7},{"x":10.82,"y":17},{"x":10.89,"y":15.5},{"x":10.96,"y":14.5},{"x":11.04,"y":13.3},{"x":11.12,"y":12.5},{"x":11.19,"y":11.7},{"x":11.26,"y":10},{"x":11.33,"y":8.5},{"x":11.4,"y":7.5},{"x":11.48,"y":6.9},{"x":11.55,"y":8},{"x":11.63,"y":9.1},{"x":11.7,"y":7.5},{"x":11.78,"y":5.9},{"x":11.86,"y":6.5},{"x":11.93,"y":6.9},{"x":12.0,"y":5.8},{"x":12.07,"y":4.8},{"x":12.15,"y":4.2},{"x":12.22,"y":3.7},{"x":12.28,"y":2},{"x":12.32,"y":0}
],
"bars": [
{"group":"Blank","phase":"G1","ord":1,"value":39.8,"lo":36.8,"hi":42.8},
{"group":"Blank","phase":"S","ord":2,"value":15.3,"lo":52.1,"hi":58.0},
{"group":"Blank","phase":"G2/M","ord":3,"value":44.9,"lo":94.5,"hi":105.2},
{"group":"Pt+TCPP","phase":"G1","ord":1,"value":39.8,"lo":36.5,"hi":43.1},
{"group":"Pt+TCPP","phase":"S","ord":2,"value":22.8,"lo":60.4,"hi":64.9},
{"group":"Pt+TCPP","phase":"G2/M","ord":3,"value":37.4,"lo":97.6,"hi":102.0},
{"group":"Pt NCPs","phase":"G1","ord":1,"value":38.6,"lo":35.5,"hi":41.8},
{"group":"Pt NCPs","phase":"S","ord":2,"value":19.4,"lo":53.7,"hi":62.0},
{"group":"Pt NCPs","phase":"G2/M","ord":3,"value":42.0,"lo":99.5,"hi":100.3},
{"group":"TCPP NCPs","phase":"G1","ord":1,"value":37.6,"lo":34.9,"hi":40.6},
{"group":"TCPP NCPs","phase":"S","ord":2,"value":31.7,"lo":64.6,"hi":73.5},
{"group":"TCPP NCPs","phase":"G2/M","ord":3,"value":30.7,"lo":98.6,"hi":101.3},
{"group":"Pt/TCPP NCPs","phase":"G1","ord":1,"value":36.4,"lo":34.5,"hi":38.8},
{"group":"Pt/TCPP NCPs","phase":"S","ord":2,"value":37.5,"lo":69.7,"hi":78.6},
{"group":"Pt/TCPP NCPs","phase":"G2/M","ord":3,"value":26.1,"lo":97.7,"hi":102.3}
]
},
"vconcat": [
{
"hconcat": [
{
 "width": 226, "height": 226,
 "title": {"text": "Blank"},
 "data": {"name": "f1"},
 "resolve": {"axis": {"x": "independent", "y": "independent"}},
 "layer": [
 {"layer": [
  {"mark": {"type": "area", "color": "#D4C86A"}, "encoding": {"x": {"field": "x", "type": "quantitative", "scale": {"domain": [0, 16.8], "nice": false, "zero": false}, "axis": {"title": "DNA content (PI)", "values": [0, 4, 8, 12, 16.8], "labelExpr": "'' + datum.value", "labelFlush": false, "labelOverlap": false}}, "y": {"field": "s", "type": "quantitative", "scale": {"domain": [0, 50], "nice": false}, "axis": {"title": "Count", "values": [0, 10, 20, 30, 40, 50]}}}},
  {"mark": {"type": "area", "color": "#78D072"}, "encoding": {"x": {"field": "x", "type": "quantitative"}, "y": {"field": "g1", "type": "quantitative"}}},
  {"mark": {"type": "area", "color": "#5FF0F0"}, "encoding": {"x": {"field": "x", "type": "quantitative"}, "y": {"field": "g2", "type": "quantitative"}}},
  {"mark": {"type": "area", "color": "#5CB83C"}, "encoding": {"x": {"field": "x", "type": "quantitative"}, "y": {"field": "o1", "type": "quantitative"}}},
  {"mark": {"type": "area", "color": "#6FDDB0"}, "encoding": {"x": {"field": "x", "type": "quantitative"}, "y": {"field": "o2", "type": "quantitative"}}},
  {"data": {"values": [{}]}, "mark": {"type": "rule", "color": "#1F9F1F", "strokeWidth": 1}, "encoding": {"x": {"datum": 5.45}}},
  {"data": {"values": [{}]}, "mark": {"type": "rule", "color": "#3CD5E2", "strokeWidth": 1}, "encoding": {"x": {"datum": 10.1}}},
  {"transform": [{"filter": "datum.f > 0.5"}], "mark": {"type": "line", "color": "#CC00CC", "strokeWidth": 1.3}, "encoding": {"x": {"field": "x", "type": "quantitative"}, "y": {"field": "f", "type": "quantitative"}}},
  {"data": {"name": "r1"}, "mark": {"type": "line", "color": "#2A2A2A", "strokeWidth": 1}, "encoding": {"x": {"field": "x", "type": "quantitative"}, "y": {"field": "y", "type": "quantitative"}}},
  {"data": {"values": [{}]}, "mark": {"type": "text", "text": "G1", "fontSize": 13, "color": "#4F6E60", "dy": 14}, "encoding": {"x": {"datum": 5.45}, "y": {"datum": 50}}},
  {"data": {"values": [{}]}, "mark": {"type": "text", "text": "G2", "fontSize": 13, "color": "#4F6E7A", "dy": 14}, "encoding": {"x": {"datum": 10.1}, "y": {"datum": 50}}},
  {"data": {"values": [{}]}, "mark": {"type": "text", "text": ["G1:40.1%", "S: 16.0%", "G2/M: 43.9%"], "align": "right", "baseline": "top", "fontSize": 16, "fontWeight": "bold", "lineHeight": 19.5, "dx": -4, "dy": 33, "color": "#111"}, "encoding": {"x": {"datum": 16.8}, "y": {"datum": 50}}},
  {"data": {"values": [{}]}, "mark": {"type": "text", "text": "(×10⁶)", "fontSize": 15, "fontWeight": "bold", "dx": -9, "dy": 37, "color": "#111"}, "encoding": {"x": {"datum": 16.8}, "y": {"datum": 0}}}
 ]},
 {"data": {"values": [{}]}, "mark": {"type": "point", "opacity": 0}, "encoding": {"x": {"datum": 0, "type": "quantitative", "axis": {"orient": "bottom", "values": [1,2,3,5,6,7,9,10,11,13,14,15,16], "labels": false, "title": null, "domain": false, "tickSize": 3, "tickWidth": 1}}, "y": {"datum": 0, "type": "quantitative", "axis": {"orient": "left", "values": [2.5,5,7.5,12.5,15,17.5,22.5,25,27.5,32.5,35,37.5,42.5,45,47.5], "labels": false, "title": null, "domain": false, "tickSize": 3, "tickWidth": 1}}}}
 ]
},
{"width": 89, "height": 226, "view": {"stroke": null}, "data": {"values": [{"k": 1}]}, "mark": {"type": "point", "opacity": 0}, "encoding": {}},
{
 "width": 226, "height": 226,
 "title": {"text": "Pt+TCPP + laser"},
 "data": {"name": "f2"},
 "resolve": {"axis": {"x": "independent", "y": "independent"}},
 "layer": [
 {"layer": [
  {"mark": {"type": "area", "color": "#D4C86A"}, "encoding": {"x": {"field": "x", "type": "quantitative", "scale": {"domain": [0, 16.8], "nice": false, "zero": false}, "axis": {"title": "DNA content (PI)", "values": [0, 4, 8, 12, 16.8], "labelExpr": "'' + datum.value", "labelFlush": false, "labelOverlap": false}}, "y": {"field": "s", "type": "quantitative", "scale": {"domain": [0, 45], "nice": false}, "axis": {"title": "Count", "values": [0, 10, 20, 30, 40, 45]}}}},
  {"mark": {"type": "area", "color": "#78D072"}, "encoding": {"x": {"field": "x", "type": "quantitative"}, "y": {"field": "g1", "type": "quantitative"}}},
  {"mark": {"type": "area", "color": "#5FF0F0"}, "encoding": {"x": {"field": "x", "type": "quantitative"}, "y": {"field": "g2", "type": "quantitative"}}},
  {"mark": {"type": "area", "color": "#5CB83C"}, "encoding": {"x": {"field": "x", "type": "quantitative"}, "y": {"field": "o1", "type": "quantitative"}}},
  {"mark": {"type": "area", "color": "#6FDDB0"}, "encoding": {"x": {"field": "x", "type": "quantitative"}, "y": {"field": "o2", "type": "quantitative"}}},
  {"data": {"values": [{}]}, "mark": {"type": "rule", "color": "#1F9F1F", "strokeWidth": 1}, "encoding": {"x": {"datum": 5.82}}},
  {"data": {"values": [{}]}, "mark": {"type": "rule", "color": "#3CD5E2", "strokeWidth": 1}, "encoding": {"x": {"datum": 10.83}}},
  {"transform": [{"filter": "datum.f > 0.5"}], "mark": {"type": "line", "color": "#CC00CC", "strokeWidth": 1.3}, "encoding": {"x": {"field": "x", "type": "quantitative"}, "y": {"field": "f", "type": "quantitative"}}},
  {"data": {"name": "r2"}, "mark": {"type": "line", "color": "#2A2A2A", "strokeWidth": 1}, "encoding": {"x": {"field": "x", "type": "quantitative"}, "y": {"field": "y", "type": "quantitative"}}},
  {"data": {"values": [{}]}, "mark": {"type": "text", "text": "G1", "fontSize": 13, "color": "#6B6050", "dy": 14}, "encoding": {"x": {"datum": 5.82}, "y": {"datum": 45}}},
  {"data": {"values": [{}]}, "mark": {"type": "text", "text": "G2", "fontSize": 13, "color": "#4F6E7A", "dy": 14}, "encoding": {"x": {"datum": 10.83}, "y": {"datum": 45}}},
  {"data": {"values": [{}]}, "mark": {"type": "text", "text": ["G1:38.3%", "S: 22.6%", "G2/M: 39.1%"], "align": "right", "baseline": "top", "fontSize": 16, "fontWeight": "bold", "lineHeight": 19.5, "dx": -4, "dy": 33, "color": "#111"}, "encoding": {"x": {"datum": 16.8}, "y": {"datum": 45}}},
  {"data": {"values": [{}]}, "mark": {"type": "text", "text": "(×10⁶)", "fontSize": 15, "fontWeight": "bold", "dx": -9, "dy": 37, "color": "#111"}, "encoding": {"x": {"datum": 16.8}, "y": {"datum": 0}}}
 ]},
 {"data": {"values": [{}]}, "mark": {"type": "point", "opacity": 0}, "encoding": {"x": {"datum": 0, "type": "quantitative", "axis": {"orient": "bottom", "values": [1,2,3,5,6,7,9,10,11,13,14,15,16], "labels": false, "title": null, "domain": false, "tickSize": 3, "tickWidth": 1}}, "y": {"datum": 0, "type": "quantitative", "axis": {"orient": "left", "values": [2.5,5,7.5,12.5,15,17.5,22.5,25,27.5,32.5,35,37.5,42.5], "labels": false, "title": null, "domain": false, "tickSize": 3, "tickWidth": 1}}}}
 ]
},
{"width": 90, "height": 226, "view": {"stroke": null}, "data": {"values": [{"k": 1}]}, "mark": {"type": "point", "opacity": 0}, "encoding": {}},
{
 "width": 226, "height": 226,
 "title": {"text": "Pt NCPs + laser"},
 "data": {"name": "f3"},
 "resolve": {"axis": {"x": "independent", "y": "independent"}},
 "layer": [
 {"layer": [
  {"mark": {"type": "area", "color": "#D4C86A"}, "encoding": {"x": {"field": "x", "type": "quantitative", "scale": {"domain": [0, 16.8], "nice": false, "zero": false}, "axis": {"title": "DNA content (PI)", "values": [0, 4, 8, 12, 16.8], "labelExpr": "'' + datum.value", "labelFlush": false, "labelOverlap": false}}, "y": {"field": "s", "type": "quantitative", "scale": {"domain": [0, 45], "nice": false}, "axis": {"title": "Count", "values": [0, 10, 20, 30, 40, 45]}}}},
  {"mark": {"type": "area", "color": "#78D072"}, "encoding": {"x": {"field": "x", "type": "quantitative"}, "y": {"field": "g1", "type": "quantitative"}}},
  {"mark": {"type": "area", "color": "#5FF0F0"}, "encoding": {"x": {"field": "x", "type": "quantitative"}, "y": {"field": "g2", "type": "quantitative"}}},
  {"mark": {"type": "area", "color": "#5CB83C"}, "encoding": {"x": {"field": "x", "type": "quantitative"}, "y": {"field": "o1", "type": "quantitative"}}},
  {"mark": {"type": "area", "color": "#6FDDB0"}, "encoding": {"x": {"field": "x", "type": "quantitative"}, "y": {"field": "o2", "type": "quantitative"}}},
  {"data": {"values": [{}]}, "mark": {"type": "rule", "color": "#1F9F1F", "strokeWidth": 1}, "encoding": {"x": {"datum": 5.72}}},
  {"data": {"values": [{}]}, "mark": {"type": "rule", "color": "#3CD5E2", "strokeWidth": 1}, "encoding": {"x": {"datum": 10.76}}},
  {"transform": [{"filter": "datum.f > 0.5"}], "mark": {"type": "line", "color": "#CC00CC", "strokeWidth": 1.3}, "encoding": {"x": {"field": "x", "type": "quantitative"}, "y": {"field": "f", "type": "quantitative"}}},
  {"data": {"name": "r3"}, "mark": {"type": "line", "color": "#2A2A2A", "strokeWidth": 1}, "encoding": {"x": {"field": "x", "type": "quantitative"}, "y": {"field": "y", "type": "quantitative"}}},
  {"data": {"values": [{}]}, "mark": {"type": "text", "text": "G1", "fontSize": 13, "color": "#4F6E60", "dy": 14}, "encoding": {"x": {"datum": 5.72}, "y": {"datum": 45}}},
  {"data": {"values": [{}]}, "mark": {"type": "text", "text": "G2", "fontSize": 13, "color": "#4F6E7A", "dy": 14}, "encoding": {"x": {"datum": 10.76}, "y": {"datum": 45}}},
  {"data": {"values": [{}]}, "mark": {"type": "text", "text": ["G1:38.9%", "S: 19.8%", "G2/M: 41.3%"], "align": "right", "baseline": "top", "fontSize": 16, "fontWeight": "bold", "lineHeight": 19.5, "dx": -4, "dy": 33, "color": "#111"}, "encoding": {"x": {"datum": 16.8}, "y": {"datum": 45}}},
  {"data": {"values": [{}]}, "mark": {"type": "text", "text": "(×10⁶)", "fontSize": 15, "fontWeight": "bold", "dx": -9, "dy": 37, "color": "#111"}, "encoding": {"x": {"datum": 16.8}, "y": {"datum": 0}}}
 ]},
 {"data": {"values": [{}]}, "mark": {"type": "point", "opacity": 0}, "encoding": {"x": {"datum": 0, "type": "quantitative", "axis": {"orient": "bottom", "values": [1,2,3,5,6,7,9,10,11,13,14,15,16], "labels": false, "title": null, "domain": false, "tickSize": 3, "tickWidth": 1}}, "y": {"datum": 0, "type": "quantitative", "axis": {"orient": "left", "values": [2.5,5,7.5,12.5,15,17.5,22.5,25,27.5,32.5,35,37.5,42.5], "labels": false, "title": null, "domain": false, "tickSize": 3, "tickWidth": 1}}}}
 ]
}
],
"bounds": "flush",
"spacing": 0
},
{
"hconcat": [
{
 "width": 226, "height": 226,
 "title": {"text": "TCPP NCPs + laser"},
 "data": {"name": "f4"},
 "resolve": {"axis": {"x": "independent", "y": "independent"}},
 "layer": [
 {"layer": [
  {"mark": {"type": "area", "color": "#D4C86A"}, "encoding": {"x": {"field": "x", "type": "quantitative", "scale": {"domain": [0, 16.4], "nice": false, "zero": false}, "axis": {"title": "DNA content (PI)", "values": [0, 4, 8, 12, 16.4], "labelExpr": "'' + datum.value", "labelFlush": false, "labelOverlap": false}}, "y": {"field": "s", "type": "quantitative", "scale": {"domain": [0, 32], "nice": false}, "axis": {"title": "Count", "values": [0, 8, 16, 24, 32]}}}},
  {"mark": {"type": "area", "color": "#78D072"}, "encoding": {"x": {"field": "x", "type": "quantitative"}, "y": {"field": "g1", "type": "quantitative"}}},
  {"mark": {"type": "area", "color": "#5FF0F0"}, "encoding": {"x": {"field": "x", "type": "quantitative"}, "y": {"field": "g2", "type": "quantitative"}}},
  {"mark": {"type": "area", "color": "#5CB83C"}, "encoding": {"x": {"field": "x", "type": "quantitative"}, "y": {"field": "o1", "type": "quantitative"}}},
  {"mark": {"type": "area", "color": "#6FDDB0"}, "encoding": {"x": {"field": "x", "type": "quantitative"}, "y": {"field": "o2", "type": "quantitative"}}},
  {"data": {"values": [{}]}, "mark": {"type": "rule", "color": "#1F9F1F", "strokeWidth": 1}, "encoding": {"x": {"datum": 5.51}}},
  {"data": {"values": [{}]}, "mark": {"type": "rule", "color": "#3CD5E2", "strokeWidth": 1}, "encoding": {"x": {"datum": 10.44}}},
  {"transform": [{"filter": "datum.f > 0.5"}], "mark": {"type": "line", "color": "#CC00CC", "strokeWidth": 1.3}, "encoding": {"x": {"field": "x", "type": "quantitative"}, "y": {"field": "f", "type": "quantitative"}}},
  {"data": {"name": "r4"}, "mark": {"type": "line", "color": "#2A2A2A", "strokeWidth": 1}, "encoding": {"x": {"field": "x", "type": "quantitative"}, "y": {"field": "y", "type": "quantitative"}}},
  {"data": {"values": [{}]}, "mark": {"type": "text", "text": "G1", "fontSize": 13, "color": "#4F6E60", "dy": 14}, "encoding": {"x": {"datum": 5.51}, "y": {"datum": 32}}},
  {"data": {"values": [{}]}, "mark": {"type": "text", "text": "G2", "fontSize": 13, "color": "#4F6E7A", "dy": 14}, "encoding": {"x": {"datum": 10.44}, "y": {"datum": 32}}},
  {"data": {"values": [{}]}, "mark": {"type": "text", "text": ["G1:38.7%", "S: 30.3%", "G2/M: 31.0%"], "align": "right", "baseline": "top", "fontSize": 16, "fontWeight": "bold", "lineHeight": 19.5, "dx": -4, "dy": 31, "color": "#111"}, "encoding": {"x": {"datum": 16.4}, "y": {"datum": 32}}},
  {"data": {"values": [{}]}, "mark": {"type": "text", "text": "(×10⁶)", "fontSize": 15, "fontWeight": "bold", "dx": -9, "dy": 35, "color": "#111"}, "encoding": {"x": {"datum": 16.4}, "y": {"datum": 0}}}
 ]},
 {"data": {"values": [{}]}, "mark": {"type": "point", "opacity": 0}, "encoding": {"x": {"datum": 0, "type": "quantitative", "axis": {"orient": "bottom", "values": [1,2,3,5,6,7,9,10,11,13,14,15,16], "labels": false, "title": null, "domain": false, "tickSize": 3, "tickWidth": 1}}, "y": {"datum": 0, "type": "quantitative", "axis": {"orient": "left", "values": [2,4,6,10,12,14,18,20,22,26,28,30], "labels": false, "title": null, "domain": false, "tickSize": 3, "tickWidth": 1}}}}
 ]
},
{"width": 89, "height": 226, "view": {"stroke": null}, "data": {"values": [{"k": 1}]}, "mark": {"type": "point", "opacity": 0}, "encoding": {}},
{
 "width": 226, "height": 226,
 "title": {"text": "Pt/TCPP NCPs + laser"},
 "data": {"name": "f5"},
 "resolve": {"axis": {"x": "independent", "y": "independent"}},
 "layer": [
 {"layer": [
  {"mark": {"type": "area", "color": "#D4C86A"}, "encoding": {"x": {"field": "x", "type": "quantitative", "scale": {"domain": [0, 16.8], "nice": false, "zero": false}, "axis": {"title": "DNA content (PI)", "values": [0, 4, 8, 12, 16.8], "labelExpr": "'' + datum.value", "labelFlush": false, "labelOverlap": false}}, "y": {"field": "s", "type": "quantitative", "scale": {"domain": [0, 36], "nice": false}, "axis": {"title": "Count", "values": [0, 8, 16, 24, 32, 36]}}}},
  {"mark": {"type": "area", "color": "#78D072"}, "encoding": {"x": {"field": "x", "type": "quantitative"}, "y": {"field": "g1", "type": "quantitative"}}},
  {"mark": {"type": "area", "color": "#5FF0F0"}, "encoding": {"x": {"field": "x", "type": "quantitative"}, "y": {"field": "g2", "type": "quantitative"}}},
  {"mark": {"type": "area", "color": "#5CB83C"}, "encoding": {"x": {"field": "x", "type": "quantitative"}, "y": {"field": "o1", "type": "quantitative"}}},
  {"mark": {"type": "area", "color": "#6FDDB0"}, "encoding": {"x": {"field": "x", "type": "quantitative"}, "y": {"field": "o2", "type": "quantitative"}}},
  {"data": {"values": [{}]}, "mark": {"type": "rule", "color": "#1F9F1F", "strokeWidth": 1}, "encoding": {"x": {"datum": 5.5}}},
  {"data": {"values": [{}]}, "mark": {"type": "rule", "color": "#3CD5E2", "strokeWidth": 1}, "encoding": {"x": {"datum": 10.49}}},
  {"transform": [{"filter": "datum.f > 0.5"}], "mark": {"type": "line", "color": "#CC00CC", "strokeWidth": 1.3}, "encoding": {"x": {"field": "x", "type": "quantitative"}, "y": {"field": "f", "type": "quantitative"}}},
  {"data": {"name": "r5"}, "mark": {"type": "line", "color": "#2A2A2A", "strokeWidth": 1}, "encoding": {"x": {"field": "x", "type": "quantitative"}, "y": {"field": "y", "type": "quantitative"}}},
  {"data": {"values": [{}]}, "mark": {"type": "text", "text": "G1", "fontSize": 13, "color": "#4F6E60", "dy": 14}, "encoding": {"x": {"datum": 5.5}, "y": {"datum": 36}}},
  {"data": {"values": [{}]}, "mark": {"type": "text", "text": "G2", "fontSize": 13, "color": "#4F6E7A", "dy": 14}, "encoding": {"x": {"datum": 10.49}, "y": {"datum": 36}}},
  {"data": {"values": [{}]}, "mark": {"type": "text", "text": ["G1:38.7%", "S: 34.1%", "G2/M: 27.2%"], "align": "right", "baseline": "top", "fontSize": 16, "fontWeight": "bold", "lineHeight": 19.5, "dx": -4, "dy": 31, "color": "#111"}, "encoding": {"x": {"datum": 16.8}, "y": {"datum": 36}}},
  {"data": {"values": [{}]}, "mark": {"type": "text", "text": "(×10⁶)", "fontSize": 15, "fontWeight": "bold", "dx": -9, "dy": 35, "color": "#111"}, "encoding": {"x": {"datum": 16.8}, "y": {"datum": 0}}}
 ]},
 {"data": {"values": [{}]}, "mark": {"type": "point", "opacity": 0}, "encoding": {"x": {"datum": 0, "type": "quantitative", "axis": {"orient": "bottom", "values": [1,2,3,5,6,7,9,10,11,13,14,15,16], "labels": false, "title": null, "domain": false, "tickSize": 3, "tickWidth": 1}}, "y": {"datum": 0, "type": "quantitative", "axis": {"orient": "left", "values": [2,4,6,10,12,14,18,20,22,26,28,30,34], "labels": false, "title": null, "domain": false, "tickSize": 3, "tickWidth": 1}}}}
 ]
},
{"width": 76, "height": 226, "view": {"stroke": null}, "data": {"values": [{"k": 1}]}, "mark": {"type": "point", "opacity": 0}, "encoding": {}},
{
 "width": 269, "height": 202,
 "view": {"stroke": null},
 "data": {"name": "bars"},
 "layer": [
  {"mark": {"type": "bar", "stroke": "#000", "strokeWidth": 1}, "encoding": {
     "x": {"field": "group", "type": "nominal", "sort": null, "scale": {"paddingInner": 0.59, "paddingOuter": 0.2}, "axis": {"title": null, "ticks": false, "labelAngle": -22, "labelFontSize": 13, "labelFontWeight": "bold", "labelPadding": 2, "labelBaseline": "top", "labelOverlap": false, "encode": {"labels": {"update": {"angle": {"signal": "datum.value === 'Blank' ? 0 : -22"}, "align": {"signal": "datum.value === 'Blank' ? 'center' : 'right'"}, "dx": {"signal": "datum.value === 'Blank' ? -4 : 16"}, "dy": {"signal": "datum.value === 'Blank' ? 2 : 6"}}}}}},
     "y": {"field": "value", "type": "quantitative", "stack": "zero", "scale": {"domain": [0, 120], "nice": false}, "axis": {"title": "Cell percentage (%)", "values": [0, 25, 50, 75, 100], "labelExpr": "datum.value % 50 === 0 ? datum.label : ''", "labelAngle": 0, "labelFontSize": 14, "labelFontWeight": "bold", "titleFontSize": 14, "tickSize": 4, "labelPadding": 3, "titlePadding": 6}},
     "color": {"field": "phase", "type": "nominal", "scale": {"domain": ["G2/M", "S", "G1"], "range": ["#0A800A", "#8000FF", "#FF8000"]}, "legend": {"orient": "top-left", "offset": 6, "direction": "horizontal", "title": null, "symbolType": "M-1,-0.45H1V0.45H-1Z", "symbolSize": 484, "symbolStrokeColor": "#000", "symbolStrokeWidth": 1, "symbolOpacity": 1, "labelFontSize": 12, "labelFontWeight": "bold", "labelFont": "Liberation Sans", "labelColor": "#000", "columnPadding": 10, "labelOffset": 4, "labelExpr": "datum.label === 'G2/M' ? 'G 2/M' : (datum.label === 'G1' ? 'G 1' : datum.label)"}},
     "order": {"field": "ord", "type": "quantitative"}}},
  {"mark": {"type": "rule", "color": "#000", "strokeWidth": 1.2}, "encoding": {"x": {"field": "group", "type": "nominal", "sort": null}, "y": {"field": "lo", "type": "quantitative"}, "y2": {"field": "hi"}}},
  {"mark": {"type": "tick", "color": "#000", "size": 8, "thickness": 1.2, "orient": "horizontal"}, "encoding": {"x": {"field": "group", "type": "nominal", "sort": null}, "y": {"field": "lo", "type": "quantitative"}}},
  {"mark": {"type": "tick", "color": "#000", "size": 8, "thickness": 1.2, "orient": "horizontal"}, "encoding": {"x": {"field": "group", "type": "nominal", "sort": null}, "y": {"field": "hi", "type": "quantitative"}}},
  {"data": {"values": [{}]}, "mark": {"type": "tick", "orient": "horizontal", "size": 218, "thickness": 1.2, "color": "#000"}, "encoding": {"x": {"datum": "Pt NCPs", "bandPosition": 1.3}, "y": {"datum": -27}}},
  {"data": {"values": [{}]}, "mark": {"type": "text", "text": "+ laser", "fontSize": 13, "fontWeight": "bold", "color": "#000"}, "encoding": {"x": {"datum": "Pt NCPs", "bandPosition": 1.5}, "y": {"datum": -32}}}
 ]
}
],
"bounds": "flush",
"spacing": 0,
"resolve": {"scale": {"color": "independent"}, "legend": {"color": "independent"}}
}
]
}
